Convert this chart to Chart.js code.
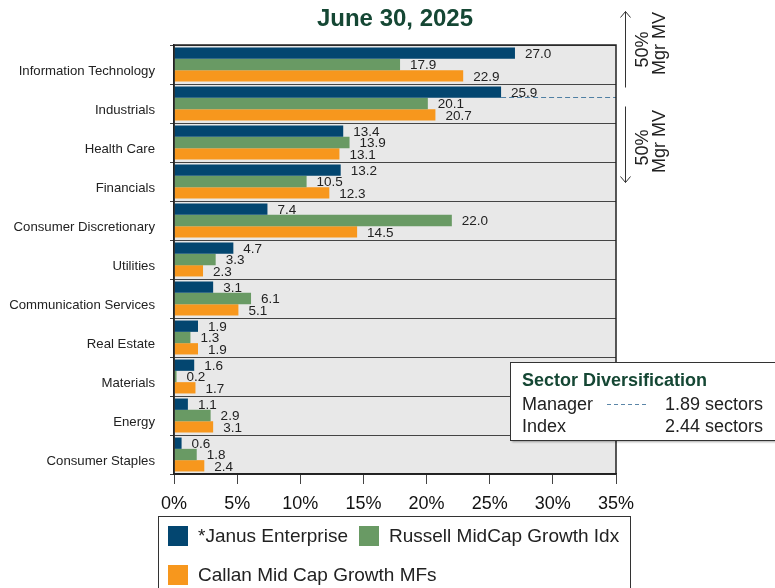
<!DOCTYPE html>
<html>
<head>
<meta charset="utf-8">
<script src="https://cdn.jsdelivr.net/npm/chart.js@4"></script>
<style>
html,body{margin:0;padding:0;background:#fff;}
#wrap{width:775px;height:588px;position:relative;}
</style>
</head>
<body>
<div id="wrap"><canvas id="c" width="775" height="588"></canvas></div>
<script>
const categories = ["Information Technology","Industrials","Health Care","Financials","Consumer Discretionary","Utilities","Communication Services","Real Estate","Materials","Energy","Consumer Staples"];
const seriesNames = ["*Janus Enterprise","Russell MidCap Growth Idx","Callan Mid Cap Growth MFs"];
const janus   = [27.0, 25.9, 13.4, 13.2, 7.4, 4.7, 3.1, 1.9, 1.6, 1.1, 0.6];
const russell = [17.9, 20.1, 13.9, 10.5, 22.0, 3.3, 6.1, 1.3, 0.2, 2.9, 1.8];
const callan  = [22.9, 20.7, 13.1, 12.3, 14.5, 2.3, 5.1, 1.9, 1.7, 3.1, 2.4];
const xTickValues = [0, 5, 10, 15, 20, 25, 30, 35];
const titleText = "June 30, 2025";
const diversification = [["Manager", "1.89 sectors"], ["Index", "2.44 sectors"]];
const mvLabel = ["50%", "Mgr MV"];
const colors = ["#034670", "#699a64", "#f7971d"];
const FONT = "'Liberation Sans', Arial, sans-serif";

const bgPlugin = {
  id: 'bg',
  beforeDraw(chart) {
    const {ctx, chartArea: a} = chart;
    ctx.save();
    ctx.fillStyle = '#fff';
    ctx.fillRect(0, 0, chart.width, chart.height);
    ctx.fillStyle = '#e8e8e8';
    ctx.fillRect(a.left, a.top, a.right - a.left, a.bottom - a.top);
    ctx.restore();
  }
};

const overlayPlugin = {
  id: 'overlay',
  afterDatasetsDraw(chart) {
    const {ctx, chartArea: a} = chart;
    ctx.save();
    // title
    ctx.fillStyle = '#154734';
    ctx.font = 'bold 24px ' + FONT;
    ctx.textAlign = 'center';
    ctx.textBaseline = 'middle';
    ctx.fillText(titleText, (a.left + a.right) / 2, 19);

    // dashed 50% line from manager bar in the second category
    const bar = chart.getDatasetMeta(0).data[1];
    const dashY = Math.round(bar.y + bar.height / 2) - 0.5;
    ctx.strokeStyle = '#4f7fa3';
    ctx.lineWidth = 1;
    ctx.setLineDash([5, 3]);
    ctx.beginPath();
    ctx.moveTo(bar.x, dashY);
    ctx.lineTo(a.right, dashY);
    ctx.stroke();
    ctx.setLineDash([]);

    // value labels
    ctx.font = '13.5px ' + FONT;
    ctx.fillStyle = '#222';
    ctx.textAlign = 'left';
    ctx.textBaseline = 'middle';
    chart.data.datasets.forEach((ds, di) => {
      chart.getDatasetMeta(di).data.forEach((el, i) => {
        ctx.fillText(ds.data[i].toFixed(1), el.x + 10, el.y + 1);
      });
    });

    // plot frame
    ctx.strokeStyle = '#222';
    ctx.lineWidth = 1.5;
    ctx.strokeRect(a.left, a.top, a.right - a.left, a.bottom - a.top);

    // arrows on right
    const ax = 625.5;
    ctx.strokeStyle = '#333';
    ctx.lineWidth = 1;
    ctx.beginPath();
    ctx.moveTo(ax, dashY - 10); ctx.lineTo(ax, dashY - 86);
    ctx.moveTo(ax - 5, dashY - 80); ctx.lineTo(ax, dashY - 86); ctx.lineTo(ax + 5, dashY - 80);
    ctx.moveTo(ax, dashY + 9); ctx.lineTo(ax, dashY + 85);
    ctx.moveTo(ax - 5, dashY + 79); ctx.lineTo(ax, dashY + 85); ctx.lineTo(ax + 5, dashY + 79);
    ctx.stroke();

    ctx.fillStyle = '#222';
    ctx.font = '18px ' + FONT;
    ctx.textAlign = 'center';
    ctx.textBaseline = 'middle';
    [[-48, -54], [50, 44]].forEach(([c1, c2]) => {
      ctx.save(); ctx.translate(643, dashY + c1); ctx.rotate(-Math.PI / 2);
      ctx.fillText(mvLabel[0], 0, 0); ctx.restore();
      ctx.save(); ctx.translate(660, dashY + c2); ctx.rotate(-Math.PI / 2);
      ctx.fillText(mvLabel[1], 0, 0); ctx.restore();
    });

    // Sector diversification box
    ctx.save();
    ctx.shadowColor = 'rgba(0,0,0,0.35)';
    ctx.shadowOffsetX = 2; ctx.shadowOffsetY = 2; ctx.shadowBlur = 2;
    ctx.fillStyle = '#fff';
    ctx.fillRect(510, 362, 280, 78);
    ctx.restore();
    ctx.strokeStyle = '#333';
    ctx.lineWidth = 1;
    ctx.strokeRect(510.5, 362.5, 280, 78);
    ctx.textAlign = 'left';
    ctx.textBaseline = 'alphabetic';
    ctx.fillStyle = '#154734';
    ctx.font = 'bold 18px ' + FONT;
    ctx.fillText('Sector Diversification', 522, 386);
    ctx.font = '18px ' + FONT;
    ctx.fillStyle = '#222';
    ctx.fillText(diversification[0][0], 522, 410);
    ctx.fillText(diversification[1][0], 522, 432);
    ctx.textAlign = 'right';
    ctx.fillText(diversification[0][1], 763, 410);
    ctx.fillText(diversification[1][1], 763, 432);
    ctx.strokeStyle = '#5b86a8';
    ctx.setLineDash([4, 3]);
    ctx.beginPath(); ctx.moveTo(607, 404.5); ctx.lineTo(648, 404.5); ctx.stroke();
    ctx.setLineDash([]);

    // legend box
    ctx.strokeStyle = '#333';
    ctx.strokeRect(158.5, 516.5, 472, 90);
    const pos = [[168, 526], [359, 526], [168, 565]];
    ctx.font = '19px ' + FONT;
    ctx.textAlign = 'left';
    ctx.textBaseline = 'middle';
    chart.data.datasets.forEach((ds, i) => {
      const [x, y] = pos[i];
      ctx.fillStyle = ds.backgroundColor;
      ctx.fillRect(x, y, 20, 20);
      ctx.fillStyle = '#222';
      ctx.fillText(ds.label, x + 30, y + 11);
    });
    ctx.restore();
  }
};

new Chart(document.getElementById('c'), {
  type: 'bar',
  data: {
    labels: categories,
    datasets: [
      {label: seriesNames[0], data: janus, backgroundColor: colors[0]},
      {label: seriesNames[1], data: russell, backgroundColor: colors[1]},
      {label: seriesNames[2], data: callan, backgroundColor: colors[2]}
    ]
  },
  options: {
    indexAxis: 'y',
    responsive: false,
    animation: false,
    devicePixelRatio: 1,
    categoryPercentage: 0.87,
    barPercentage: 1.0,
    layout: {padding: {left: 0, right: 159, top: 45, bottom: 74}},
    plugins: {
      legend: {display: false},
      tooltip: {enabled: false},
      title: {display: false}
    },
    scales: {
      y: {
        afterFit(s) { s.width = 174; },
        grid: {color: '#444', lineWidth: 1, tickLength: 4, offset: true},
        border: {color: '#222', width: 1.5},
        ticks: {color: '#222', padding: 15, labelOffset: 7, font: {family: FONT, size: 13.2}}
      },
      x: {
        min: 0, max: 35,
        afterFit(s) { s.height = 40; },
        afterBuildTicks(s) { s.ticks = xTickValues.map(v => ({value: v})); },
        grid: {drawOnChartArea: false, drawTicks: true, tickLength: 10, color: '#444'},
        border: {color: '#222', width: 1.5},
        ticks: {color: '#111', padding: 9, maxRotation: 0, font: {family: FONT, size: 18},
          callback: v => v + '%'}
      }
    }
  },
  plugins: [bgPlugin, overlayPlugin]
});
</script>
</body>
</html>
